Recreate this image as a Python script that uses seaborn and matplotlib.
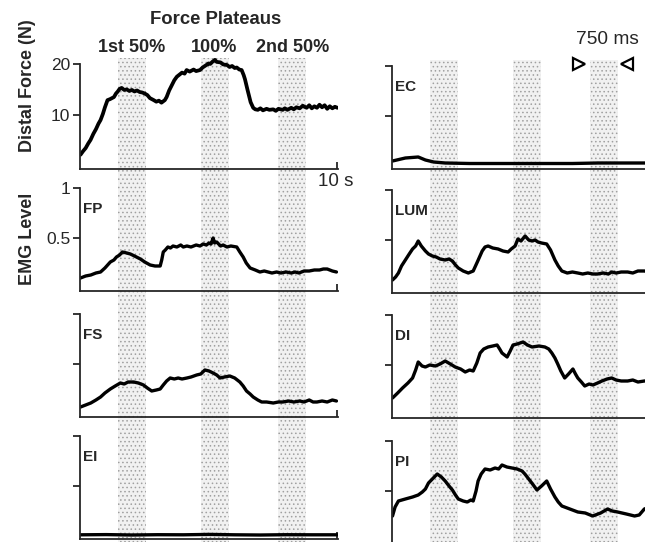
import numpy as np
import pandas as pd
import matplotlib
matplotlib.use("Agg")
import matplotlib.pyplot as plt
import seaborn as sns

# ---------------- data ----------------
band_start = [1.46, 4.67, 7.69]
band_end = [2.56, 5.76, 8.76]
plateau_labels = ["1st 50%", "100%", "2nd 50%"]

force_t = [0, 0.1, 0.2, 0.3, 0.39, 0.5, 0.6, 0.7, 0.78, 0.87,
           0.95, 1.05, 1.15, 1.3, 1.38, 1.45, 1.52, 1.6, 1.7, 1.8,
           1.9, 2.0, 2.1, 2.2, 2.3, 2.4, 2.5, 2.6, 2.7, 2.85,
           2.95, 3.05, 3.15, 3.2, 3.28, 3.35, 3.45, 3.55, 3.65, 3.75,
           3.85, 3.95, 4.05, 4.13, 4.25, 4.4, 4.5, 4.65, 4.75, 4.9,
           4.98, 5.05, 5.15, 5.23, 5.3, 5.45, 5.55, 5.7, 5.8, 5.9,
           6.0, 6.08, 6.18, 6.27, 6.35, 6.4, 6.5, 6.62, 6.72, 6.8,
           6.9, 7.0, 7.1, 7.24, 7.35, 7.5, 7.6, 7.7, 7.87, 7.95,
           8.05, 8.2, 8.3, 8.4, 8.53, 8.65, 8.8, 8.9, 9.0, 9.1,
           9.2, 9.3, 9.4, 9.5, 9.6, 9.7, 9.8, 9.9, 10.0]
force_v = [2.2, 2.9, 3.5, 4.4, 5.1, 6.3, 7.2, 8.3, 9.0, 10.2,
           11.5, 12.9, 13.1, 13.5, 14.2, 14.6, 15.1, 15.3, 14.9, 15.0,
           14.7, 14.9, 14.6, 14.8, 14.5, 14.4, 14.2, 13.9, 13.3, 12.9,
           12.6, 12.8, 12.4, 12.6, 12.9, 13.5, 14.8, 15.8, 16.8, 17.5,
           17.9, 18.3, 18.1, 18.8, 18.5, 18.9, 18.6, 18.8, 19.3, 19.8,
           20.1, 20.0, 20.5, 20.8, 20.4, 20.3, 19.9, 19.8, 19.4, 19.6,
           19.2, 19.3, 18.9, 18.8, 17.8, 17.0, 14.9, 12.5, 11.4, 11.1,
           11.0, 11.3, 10.9, 11.2, 11.0, 11.1, 10.8, 11.2, 11.0, 11.3,
           11.0, 11.4, 11.1, 11.5, 11.3, 11.8, 11.4, 11.9, 11.3, 11.7,
           11.4, 12.0, 11.5, 11.9, 11.2, 11.7, 11.3, 11.6, 11.4]

fp_t = [0, 0.2, 0.4, 0.6, 0.78, 0.95, 1.16, 1.3, 1.4, 1.52,
        1.63, 1.8, 1.94, 2.1, 2.33, 2.5, 2.71, 2.9, 3.1, 3.16,
        3.22, 3.3, 3.4, 3.5, 3.6, 3.75, 3.9, 4.0, 4.14, 4.3,
        4.5, 4.65, 4.77, 4.9, 5.0, 5.08, 5.16, 5.22, 5.3, 5.45,
        5.55, 5.7, 5.85, 6.08, 6.2, 6.33, 6.45, 6.6, 6.8, 6.98,
        7.15, 7.3, 7.45, 7.63, 7.8, 8.0, 8.2, 8.35, 8.5, 8.7,
        8.9, 9.1, 9.3, 9.45, 9.6, 9.8, 9.96]
fp_v = [0.10, 0.12, 0.13, 0.15, 0.16, 0.20, 0.26, 0.28, 0.31, 0.33,
        0.36, 0.35, 0.34, 0.32, 0.29, 0.26, 0.23, 0.22, 0.22, 0.28,
        0.36, 0.38, 0.41, 0.40, 0.42, 0.41, 0.43, 0.41, 0.42, 0.41,
        0.43, 0.42, 0.44, 0.43, 0.45, 0.44, 0.50, 0.45, 0.46, 0.42,
        0.43, 0.41, 0.42, 0.41, 0.36, 0.31, 0.25, 0.20, 0.18, 0.16,
        0.17, 0.16, 0.15, 0.16, 0.15, 0.16, 0.15, 0.16, 0.15, 0.17,
        0.17, 0.18, 0.18, 0.19, 0.19, 0.17, 0.16]

fs_t = [0, 0.2, 0.4, 0.6, 0.78, 0.95, 1.16, 1.35, 1.55, 1.7,
        1.85, 2.07, 2.25, 2.45, 2.6, 2.77, 2.95, 3.1, 3.22, 3.35,
        3.49, 3.65, 3.8, 3.95, 4.14, 4.3, 4.52, 4.68, 4.84, 5.0,
        5.16, 5.3, 5.43, 5.6, 5.81, 6.0, 6.2, 6.33, 6.46, 6.6,
        6.72, 6.9, 7.05, 7.24, 7.5, 7.7, 7.87, 8.1, 8.3, 8.53,
        8.7, 8.9, 9.05, 9.2, 9.4, 9.6, 9.8, 9.96]
fs_v = [0.07, 0.09, 0.11, 0.14, 0.17, 0.21, 0.25, 0.28, 0.31, 0.30,
        0.32, 0.32, 0.31, 0.29, 0.26, 0.23, 0.24, 0.25, 0.29, 0.33,
        0.36, 0.35, 0.36, 0.35, 0.36, 0.37, 0.39, 0.40, 0.44, 0.43,
        0.41, 0.39, 0.36, 0.37, 0.38, 0.36, 0.32, 0.28, 0.23, 0.20,
        0.17, 0.14, 0.12, 0.12, 0.11, 0.12, 0.12, 0.13, 0.12, 0.13,
        0.12, 0.14, 0.12, 0.12, 0.13, 0.12, 0.14, 0.13]

ei_t = [0, 1, 2, 3, 4, 5, 6, 7, 8, 9, 10]
ei_v = [0.012, 0.014, 0.010, 0.013, 0.012, 0.016, 0.012, 0.010, 0.013, 0.012, 0.012]

ec_t = [0, 0.5, 1.0, 1.28, 1.6, 2.05, 3, 4, 5, 6, 7, 8, 9, 10]
ec_v = [0.05, 0.08, 0.09, 0.06, 0.04, 0.03, 0.025, 0.025, 0.025, 0.025, 0.025, 0.03,
        0.03, 0.03]

lum_t = [0, 0.12, 0.23, 0.35, 0.5, 0.65, 0.78, 0.9, 1.0, 1.12,
         1.28, 1.4, 1.55, 1.7, 1.85, 2.05, 2.2, 2.33, 2.45, 2.56,
         2.75, 2.95, 3.14, 3.3, 3.49, 3.6, 3.72, 3.9, 4.11, 4.3,
         4.5, 4.62, 4.77, 4.88, 5.0, 5.16, 5.3, 5.43, 5.55, 5.66,
         5.8, 6.0, 6.15, 6.32, 6.45, 6.59, 6.8, 7.0, 7.21, 7.4,
         7.6, 7.8, 7.98, 8.2, 8.4, 8.53, 8.7, 8.9, 9.15, 9.35,
         9.55, 9.8, 10.0]
lum_v = [0.10, 0.13, 0.17, 0.24, 0.30, 0.36, 0.41, 0.44, 0.49, 0.44,
         0.39, 0.36, 0.34, 0.33, 0.31, 0.30, 0.31, 0.29, 0.25, 0.22,
         0.19, 0.17, 0.19, 0.28, 0.39, 0.43, 0.44, 0.42, 0.41, 0.39,
         0.38, 0.41, 0.44, 0.51, 0.49, 0.54, 0.50, 0.49, 0.50, 0.48,
         0.47, 0.46, 0.40, 0.30, 0.24, 0.19, 0.17, 0.18, 0.17, 0.16,
         0.17, 0.16, 0.16, 0.17, 0.16, 0.18, 0.17, 0.18, 0.18, 0.17,
         0.19, 0.19, 0.18]

di_t = [0, 0.2, 0.39, 0.6, 0.78, 0.9, 1.0, 1.15, 1.28, 1.45,
        1.67, 1.85, 2.05, 2.25, 2.44, 2.65, 2.83, 3.0, 3.14, 3.28,
        3.41, 3.55, 3.72, 3.9, 4.07, 4.17, 4.26, 4.36, 4.46, 4.58,
        4.69, 4.85, 5.08, 5.25, 5.43, 5.7, 5.93, 6.08, 6.2, 6.32,
        6.43, 6.55, 6.7, 6.85, 7.02, 7.12, 7.21, 7.35, 7.48, 7.65,
        7.8, 7.98, 8.15, 8.35, 8.53, 8.7, 8.9, 9.15, 9.35, 9.55,
        9.8, 10.0]
di_v = [0.17, 0.22, 0.27, 0.32, 0.37, 0.45, 0.53, 0.49, 0.48, 0.50,
        0.49, 0.51, 0.54, 0.51, 0.48, 0.46, 0.43, 0.45, 0.44, 0.52,
        0.62, 0.66, 0.68, 0.69, 0.70, 0.66, 0.62, 0.60, 0.58, 0.64,
        0.70, 0.71, 0.73, 0.70, 0.68, 0.69, 0.68, 0.66, 0.62, 0.57,
        0.51, 0.44, 0.37, 0.41, 0.46, 0.41, 0.37, 0.33, 0.29, 0.31,
        0.30, 0.32, 0.34, 0.36, 0.37, 0.35, 0.34, 0.34, 0.35, 0.33,
        0.34, 0.34]

pi_t = [0, 0.1, 0.23, 0.5, 0.78, 1.0, 1.16, 1.28, 1.4, 1.55,
        1.74, 1.9, 2.05, 2.2, 2.33, 2.45, 2.56, 2.75, 2.91, 3.05,
        3.14, 3.25, 3.33, 3.45, 3.6, 3.8, 3.99, 4.13, 4.26, 4.45,
        4.65, 4.85, 5.04, 5.15, 5.27, 5.45, 5.62, 5.8, 6.0, 6.15,
        6.32, 6.45, 6.59, 6.9, 7.21, 7.5, 7.79, 8.1, 8.37, 8.55,
        8.76, 9.1, 9.42, 9.6, 9.8, 10.0]
pi_v = [0.25, 0.34, 0.40, 0.42, 0.44, 0.46, 0.49, 0.52, 0.58, 0.62,
        0.67, 0.64, 0.60, 0.55, 0.51, 0.46, 0.42, 0.40, 0.39, 0.41,
        0.40, 0.50, 0.60, 0.67, 0.72, 0.71, 0.73, 0.72, 0.76, 0.74,
        0.73, 0.72, 0.70, 0.67, 0.63, 0.57, 0.51, 0.55, 0.60, 0.52,
        0.44, 0.39, 0.35, 0.32, 0.29, 0.28, 0.25, 0.28, 0.32, 0.30,
        0.29, 0.27, 0.25, 0.26, 0.32, 0.34]

# ---------------- style ----------------
sns.set_style("ticks")
plt.rcParams["font.family"] = ["Liberation Sans", "DejaVu Sans"]
plt.rcParams["hatch.linewidth"] = 0.6

W, H = 645, 542
fig = plt.figure(figsize=(W / 100, H / 100), dpi=100)


def add_px_axes(left, bottom_px, width, height):
    return fig.add_axes([left / W, 1 - bottom_px / H, width / W, height / H])


XL = (-0.02, 10.02)
COL_LEFT = {"L": 80, "R": 392}
COL_W = 258

# background stipple bands spanning each column
for col, top_px in (("L", 58), ("R", 60)):
    bg = add_px_axes(COL_LEFT[col], H, COL_W, H - top_px)
    bg.set_xlim(*XL)
    bg.set_ylim(0, 1)
    bg.set_axis_off()
    bg.set_zorder(0)
    for s, e in zip(band_start, band_end):
        bg.axvspan(s, e, facecolor="#f1f1f1", edgecolor="#a0a0a0", hatch="....",
                   linewidth=0)

EMG_LIM = (-0.03, 1.08)
EMG_H = 111

panels = [
    # name, col, bottom_px, t, v, kind
    ("", "L", 169, force_t, force_v, "force"),
    ("FP", "L", 291, fp_t, fp_v, "emg"),
    ("FS", "L", 417, fs_t, fs_v, "emg"),
    ("EI", "L", 539, ei_t, ei_v, "emg"),
    ("EC", "R", 169, ec_t, ec_v, "emg"),
    ("LUM", "R", 293, lum_t, lum_v, "emg"),
    ("DI", "R", 418, di_t, di_v, "emg"),
    ("PI", "R", 544, pi_t, pi_v, "emg"),
]

axes = {}
for name, col, bpx, t, v, kind in panels:
    if kind == "force":
        ylim = (-0.6, 21.2)
        hpx = (ylim[1] - ylim[0]) * 5.1
        lw = 2.7
    else:
        ylim = EMG_LIM
        hpx = EMG_H
        lw = 2.4
    ax = add_px_axes(COL_LEFT[col], bpx, COL_W, hpx)
    ax.set_zorder(2)
    ax.patch.set_visible(False)
    df = pd.DataFrame({"t": t, "v": v})
    sns.lineplot(data=df, x="t", y="v", ax=ax, color="black", linewidth=lw,
                 sort=False, estimator=None, legend=False)
    ax.set_xlim(*XL)
    ax.set_ylim(*ylim)
    ax.set_xlabel("")
    ax.set_ylabel("")
    for sp in ("top", "right"):
        ax.spines[sp].set_visible(False)
    for sp in ("left", "bottom"):
        ax.spines[sp].set_linewidth(1.3)
    if kind == "force":
        ax.spines["left"].set_bounds(ylim[0], 20)
        ax.set_yticks([10, 20])
        ax.set_yticklabels(["10", "20"])
    else:
        ax.spines["left"].set_bounds(ylim[0], 1)
        ax.set_yticks([0.5, 1])
        if name == "FP":
            ax.set_yticklabels(["0.5", "1"])
        else:
            ax.set_yticklabels(["", ""])
    ax.tick_params(axis="y", direction="out", length=5, width=1.3, labelsize=12.5,
                   pad=2)
    if col == "L":
        ax.set_xticks([10])
        ax.set_xticklabels([""])
        ax.tick_params(axis="x", direction="in", length=5, width=1.3)
    else:
        ax.set_xticks([])
    if name:
        ax.text(0.1, 0.86, name, fontsize=11, fontweight="bold", va="top",
                ha="left")
    axes[name if name else "force"] = ax

# ---------------- annotations ----------------
def ftext(x, y, s, **kw):
    fig.text(x / W, 1 - y / H, s, **kw)


ftext(216, 20, "Force Plateaus", fontsize=13.3, fontweight="bold", ha="center",
      va="center")
for s, e, lab in zip(band_start, band_end, plateau_labels):
    xc = 80 + (s + e) / 2 * 25.8
    ftext(xc, 48, lab, fontsize=13, fontweight="bold", ha="center", va="center")

ftext(27, 86, "Distal Force (N)", fontsize=13, fontweight="bold", rotation=90,
      ha="center", va="center")
ftext(28, 239, "EMG Level", fontsize=13, fontweight="bold", rotation=90,
      ha="center", va="center")
ftext(336, 181, "10 s", fontsize=13.5, ha="center", va="center")
ftext(607, 40, "750 ms", fontsize=13.8, ha="center", va="center")

ec = axes["EC"]
ec.plot([(579 - 392) / 25.8], [1.02], marker=">", markersize=8, mfc="white",
        mec="black", mew=1.6, clip_on=False, linestyle="none")
ec.plot([(627 - 392) / 25.8], [1.02], marker="<", markersize=8, mfc="white",
        mec="black", mew=1.6, clip_on=False, linestyle="none")

fig.savefig("out.png", dpi=100)
